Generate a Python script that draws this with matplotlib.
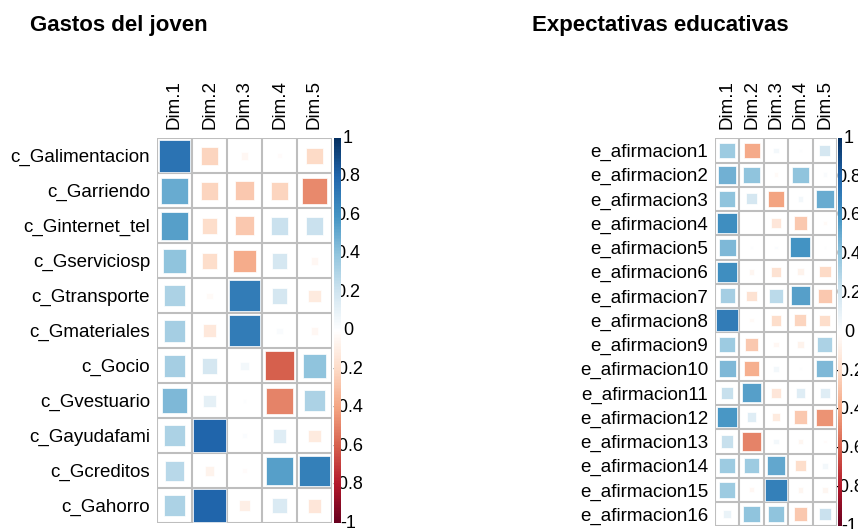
import numpy as np
import matplotlib
matplotlib.use('Agg')
import matplotlib.pyplot as plt
from matplotlib.colors import LinearSegmentedColormap, Normalize
from matplotlib.patches import Rectangle
from matplotlib.cm import ScalarMappable
from matplotlib.transforms import blended_transform_factory

plt.rcParams['font.family'] = ['Liberation Sans', 'DejaVu Sans']

dims = ['Dim.1', 'Dim.2', 'Dim.3', 'Dim.4', 'Dim.5']

gastos_rows = ['c_Galimentacion', 'c_Garriendo', 'c_Ginternet_tel', 'c_Gserviciosp',
               'c_Gtransporte', 'c_Gmateriales', 'c_Gocio', 'c_Gvestuario',
               'c_Gayudafami', 'c_Gcreditos', 'c_Gahorro']
gastos_vals = [
    [0.74, -0.22, -0.04, -0.02, -0.20],
    [0.50, -0.22, -0.27, -0.22, -0.48],
    [0.55, -0.18, -0.27, 0.22, 0.22],
    [0.40, -0.18, -0.37, 0.18, -0.04],
    [0.32, -0.03, 0.70, 0.18, -0.11],
    [0.34, -0.13, 0.70, 0.03, -0.04],
    [0.34, 0.18, 0.05, -0.60, 0.40],
    [0.45, 0.11, 0.01, -0.50, 0.32],
    [0.32, 0.80, 0.02, 0.14, -0.11],
    [0.28, -0.07, -0.02, 0.55, 0.68],
    [0.32, 0.80, -0.09, 0.16, -0.14],
]

expect_rows = ['e_afirmacion%d' % i for i in range(1, 17)]
expect_vals = [
    [0.36, -0.38, 0.05, 0.01, 0.18],
    [0.48, 0.40, -0.03, 0.40, 0.03],
    [0.40, 0.18, -0.40, 0.05, 0.50],
    [0.62, 0.00, -0.14, -0.27, -0.03],
    [0.45, 0.01, 0.02, 0.60, 0.01],
    [0.62, -0.05, -0.16, -0.07, -0.20],
    [0.34, -0.16, 0.27, 0.55, -0.27],
    [0.70, -0.03, -0.18, -0.22, -0.18],
    [0.36, -0.27, -0.04, -0.07, 0.32],
    [0.45, -0.36, 0.05, 0.01, 0.45],
    [0.23, 0.55, -0.14, 0.14, 0.14],
    [0.58, 0.14, -0.11, -0.27, -0.45],
    [0.23, -0.50, 0.05, -0.05, -0.02],
    [0.36, 0.36, 0.52, -0.18, 0.05],
    [0.36, -0.04, 0.68, -0.05, -0.05],
    [0.09, 0.40, 0.40, -0.27, 0.22],
]

cb_ticks = [-1, -0.8, -0.6, -0.4, -0.2, 0, 0.2, 0.4, 0.6, 0.8, 1]
cb_labels = ['-1', '-0.8', '-0.6', '-0.4', '-0.2', '0', '0.2', '0.4', '0.6', '0.8', '1']

cmap = LinearSegmentedColormap.from_list('rdbu', [
    '#67001F', '#B2182B', '#D6604D', '#F4A582', '#FDDBC7', '#FFFFFF',
    '#D1E5F0', '#92C5DE', '#4393C3', '#2166AC', '#053061'])
norm = Normalize(-1, 1)

W, H = 858, 529
fig = plt.figure(figsize=(W / 100, H / 100), dpi=100)


def px(x0, y0, x1, y1):
    return [x0 / W, 1 - y1 / H, (x1 - x0) / W, (y1 - y0) / H]


def corr_panel(box, cbox, rows, vals, title, tx):
    vals = np.array(vals)
    nr, nc = vals.shape
    ax = fig.add_axes(px(*box))
    ax.set_xlim(0, nc)
    ax.set_ylim(nr, 0)
    for i in range(nr):
        for j in range(nc):
            v = vals[i, j]
            s = min(0.95, np.sqrt(abs(v)) * 1.06)
            ax.add_patch(Rectangle((j + 0.5 - s / 2, i + 0.5 - s / 2), s, s,
                                   facecolor=cmap(norm(v)), edgecolor='white',
                                   linewidth=0.5, zorder=2))
    for k in range(nc + 1):
        ax.axvline(k, color='#BEBEBE', lw=1.5, zorder=1)
    for k in range(nr + 1):
        ax.axhline(k, color='#BEBEBE', lw=1.5, zorder=1)
    for sp in ax.spines.values():
        sp.set_visible(False)
    ax.set_yticks(np.arange(nr) + 0.5)
    ax.set_yticklabels(rows, fontsize=13.5)
    ax.xaxis.tick_top()
    ax.set_xticks(np.arange(nc) + 0.5)
    ax.set_xticklabels(dims, rotation=90, fontsize=13.5)
    ax.tick_params(length=0, pad=5)
    ax.tick_params(axis='x', pad=7)

    cax = fig.add_axes(px(*cbox))
    cb = fig.colorbar(ScalarMappable(norm=norm, cmap=cmap), cax=cax)
    cb.set_ticks([])
    cb.outline.set_visible(False)
    # labels sit partly under the bar, as in corrplot
    tr = blended_transform_factory(fig.transFigure, cax.transData)
    for t, lab in zip(cb_ticks, cb_labels):
        fig.text((cbox[2] + 7) / W, t, lab, transform=tr, fontsize=13,
                 ha='center', va='center', zorder=-1)

    fig.text(tx / W, 1 - 25 / H, title, fontsize=16, fontweight='bold',
             va='center', ha='left')


corr_panel((157, 138.3, 332, 523.3), (334, 138.3, 341, 523.3),
           gastos_rows, gastos_vals, 'Gastos del joven', 30)
corr_panel((715, 138.3, 837, 526.3), (837.5, 138.3, 842, 526.3),
           expect_rows, expect_vals, 'Expectativas educativas', 532)

fig.savefig('out.png', dpi=100)
